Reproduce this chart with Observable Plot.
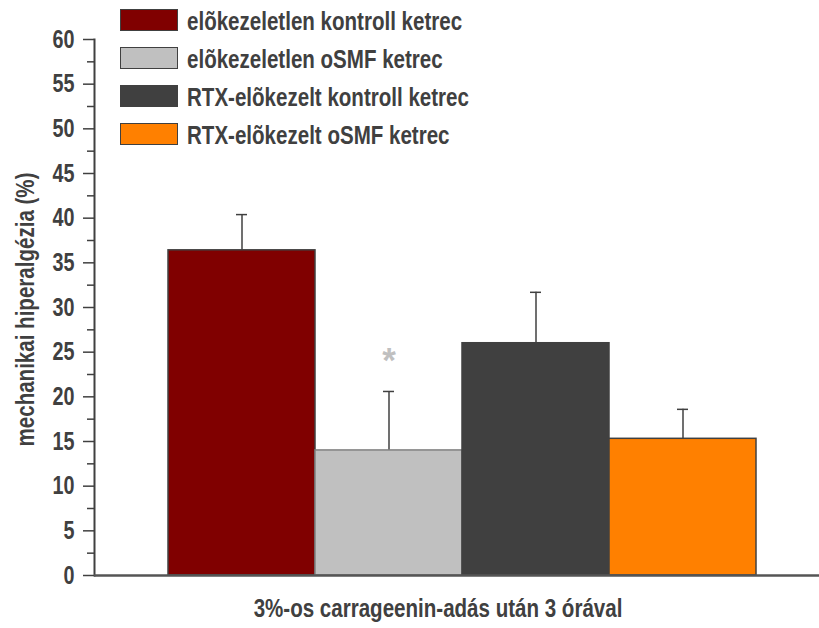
<!DOCTYPE html>
<html><head><meta charset="utf-8">
<script src="https://cdn.jsdelivr.net/npm/d3@7"></script>
<script src="https://cdn.jsdelivr.net/npm/@observablehq/plot@0.6"></script>
<style>
body{margin:0;background:#fff;}
#wrap{position:relative;width:819px;height:628px;font-family:"Liberation Sans",Arial,sans-serif;}
#legend{position:absolute;left:120px;top:1px;}
.li{display:flex;align-items:center;height:38px;font-weight:bold;font-size:26px;line-height:26px;color:#404040;white-space:nowrap;}
.sw{width:58px;height:22px;border:1px solid #404040;box-sizing:border-box;margin-right:9px;flex:none;}
.li span{display:inline-block;transform:scaleX(0.79);transform-origin:left center;position:relative;top:1px;}
</style></head>
<body><div id="wrap"><div id="legend"></div></div>
<script>
const categories = ["elõkezeletlen kontroll ketrec","elõkezeletlen oSMF ketrec","RTX-elõkezelt kontroll ketrec","RTX-elõkezelt oSMF ketrec"];
const values = [36.4, 14.0, 26.0, 15.3];
const errors = [4.0, 6.6, 5.7, 3.3];
const colors = ["#800000","#c0c0c0","#404040","#ff8000"];
const strokes = ["#404040","#808080","#404040","#404040"];
const yTicks = [0,5,10,15,20,25,30,35,40,45,50,55,60];
const yMinor = [2.5,7.5,12.5,17.5,22.5,27.5,32.5,37.5,42.5,47.5,52.5,57.5];
const signif = [{cat: categories[1], y: 24.0, label: "*"}];
const yLabel = "mechanikai hiperalgézia (%)";
const xLabel = "3%-os carrageenin-adás után 3 órával";

const data = categories.map((c,i)=>({cat:c, v:values[i], e:errors[i], fill:colors[i], stroke:strokes[i]}));
const font = '"Liberation Sans",Arial,sans-serif';

const chart = Plot.plot({
  width: 819, height: 628,
  marginLeft: 94, marginRight: 0, marginTop: 39, marginBottom: 53,
  style: {fontFamily: font, fontWeight: "bold", fontSize: "25px", color: "#404040", background: "#fff"},
  x: {domain: categories, range: [168, 756], padding: 0, axis: null},
  y: {domain: [0, 60], axis: null},
  marks: [
    Plot.ruleX(data, {x: "cat", y1: "v", y2: d => d.v + d.e, stroke: "#404040", strokeWidth: 1.5}),
    Plot.tickY(data, {x: "cat", y: d => d.v + d.e, stroke: "#404040", strokeWidth: 1.5, insetLeft: 68, insetRight: 68}),
    Plot.barY(data, {x: "cat", y: "v", fill: d => d.fill, stroke: d => d.stroke, strokeWidth: 1.5}),
    Plot.text(signif, {x: "cat", y: "y", text: "label", fill: "#c0c0c0", fontSize: 35, fontWeight: "bold"}),
    Plot.axisY(yTicks, {tickSize: 11, tickPadding: 9, stroke: "#404040", strokeWidth: 1.5, fill: "#404040", fontSize: 25, fontWeight: "bold"}),
    Plot.axisY(yMinor, {tickSize: 7, text: null, stroke: "#404040", strokeWidth: 1.5}),
    Plot.frame({anchor: "left", stroke: "#404040", strokeWidth: 2}),
    Plot.ruleY([0], {stroke: "#555", strokeWidth: 2.5}),
    Plot.text([yLabel], {frameAnchor: "left", textAnchor: "middle", dx: -69, dy: 2, rotate: -90, fontSize: 26, fontWeight: "bold", fill: "#404040"}),
    Plot.text([xLabel], {frameAnchor: "bottom", dx: -19, dy: 41, fontSize: 26, fontWeight: "bold", fill: "#404040"})
  ]
});
document.getElementById("wrap").prepend(chart);

// narrow the letterforms (Arial Narrow look)
chart.querySelectorAll("text").forEach(t => {
  const len = t.getComputedTextLength();
  if (len > 0 && t.textContent !== "*") {
    t.setAttribute("textLength", (len * 0.79).toFixed(2));
    t.setAttribute("lengthAdjust", "spacingAndGlyphs");
  }
});

const leg = document.getElementById("legend");
categories.forEach((c,i)=>{
  const row = document.createElement("div"); row.className = "li";
  const sw = document.createElement("div"); sw.className = "sw"; sw.style.background = colors[i];
  const t = document.createElement("span"); t.textContent = c;
  row.append(sw, t); leg.append(row);
});
</script></body></html>
